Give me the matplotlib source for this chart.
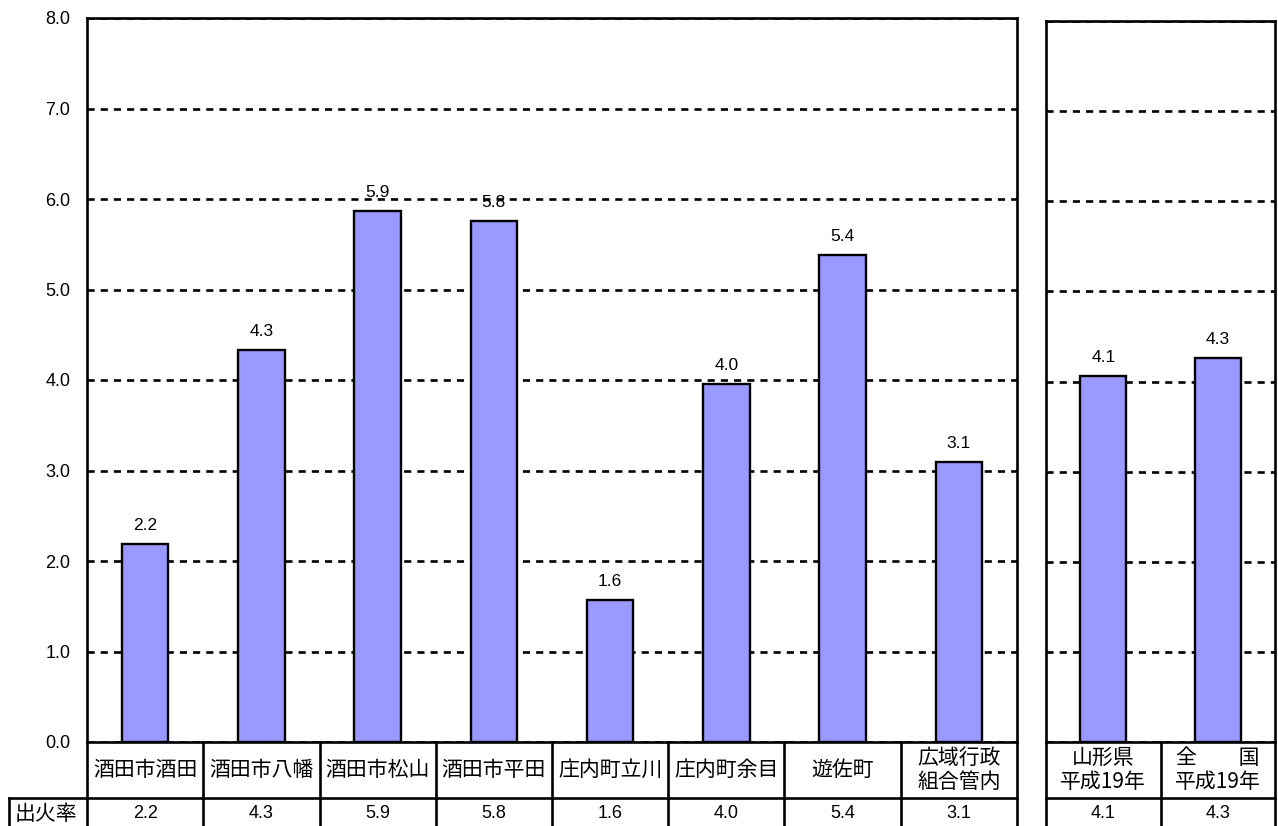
import matplotlib.pyplot as plt
import matplotlib.transforms as mtransforms
from matplotlib.lines import Line2D

plt.rcParams['font.family'] = ['Noto Sans CJK JP', 'DejaVu Sans']

# ---- data ----
areas = ['酒田市酒田', '酒田市八幡', '酒田市松山', '酒田市平田',
         '庄内町立川', '庄内町余目', '遊佐町', '広域行政\n組合管内']
rates = [2.19, 4.33, 5.87, 5.76, 1.57, 3.96, 5.38, 3.09]
ref_names = ['山形県\n平成19年', '全　　国\n平成19年']
ref_rates = [4.06, 4.26]
row_label = '出火率'
yticks = [0, 1, 2, 3, 4, 5, 6, 7, 8]

bar_color = '#9999FF'
num_font = ['Liberation Sans', 'DejaVu Sans']
W, H = 1278, 826
LW = 1.9

fig = plt.figure(figsize=(W / 100, H / 100), dpi=100, facecolor='white')

# axes positions (pixels -> figure fractions)
ax1 = fig.add_axes([87 / W, (H - 742) / H, 930 / W, 724 / H])
ax2 = fig.add_axes([1046 / W, (H - 742) / H, 229 / W, 721 / H])

table_top = (H - 742) / H
row_split = (H - 798) / H
name_y = (H - 770) / H
val_y = (H - 814) / H


def style(ax, show_labels):
    ax.set_ylim(0, 8)
    ax.set_yticks(yticks)
    if show_labels:
        ax.set_yticklabels([f'{t:.1f}' for t in yticks], family=num_font, fontsize=13)
    else:
        ax.set_yticklabels([])
    ax.tick_params(axis='y', length=0, pad=12)
    ax.set_xticks([])
    for s in ax.spines.values():
        s.set_linewidth(LW)
        s.set_color('black')
    ax.set_axisbelow(True)
    ax.yaxis.grid(True, color='black', linewidth=1.9, linestyle=(0, (2.7, 2.3)))


def draw_panel(ax, names, vals):
    n = len(names)
    x = list(range(n))
    ax.bar(x, vals, width=0.4, color=bar_color, edgecolor='black', linewidth=1.7, zorder=2)
    ax.set_xlim(-0.5, n - 0.5)
    for i, v in enumerate(vals):
        ax.annotate(f'{v:.1f}', (i, v), xytext=(0, 8), textcoords='offset points',
                    ha='center', va='bottom', family=num_font, fontsize=12.5)
    # table below the panel
    tr = mtransforms.blended_transform_factory(ax.transData, fig.transFigure)
    for k in range(n + 1):
        fig.add_artist(Line2D([k - 0.5, k - 0.5], [0, table_top], transform=tr,
                              color='black', linewidth=LW, clip_on=False))
    fig.add_artist(Line2D([-0.5, n - 0.5], [row_split, row_split], transform=tr,
                          color='black', linewidth=LW, clip_on=False))
    for i in range(n):
        fig.text(i, name_y, names[i], transform=tr, ha='center', va='center',
                 fontsize=15, linespacing=1.15)
        fig.text(i, val_y, f'{vals[i]:.1f}', transform=tr, ha='center', va='center',
                 family=num_font, fontsize=13)


style(ax1, True)
style(ax2, False)
draw_panel(ax1, areas, rates)
draw_panel(ax2, ref_names, ref_rates)

# row header cell
x0, x1 = 9 / W, 87 / W
fig.add_artist(Line2D([x0, x1], [row_split, row_split], transform=fig.transFigure,
                      color='black', linewidth=LW))
fig.add_artist(Line2D([x0, x0], [0, row_split], transform=fig.transFigure,
                      color='black', linewidth=LW))
fig.text(15 / W, val_y, row_label, ha='left', va='center', fontsize=15)

fig.savefig('out.png', dpi=100, facecolor='white')
